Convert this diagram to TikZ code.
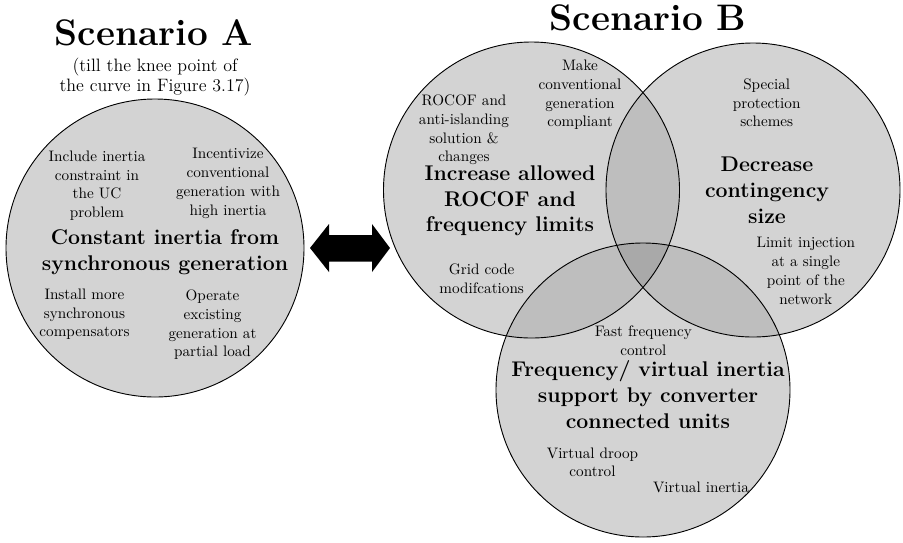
\documentclass[tikz,border=0pt]{standalone}
\usepackage{xcolor}
\definecolor{vennone}{HTML}{D3D3D3}
\definecolor{venntwo}{HTML}{BEBEBE}
\definecolor{vennthree}{HTML}{A9A9A9}
\begin{document}
% multi-line nodes are placed by the baseline of their last line
\begin{tikzpicture}[x=0.658pt,y=-0.658pt,
  ring/.style={draw=black, line width=0.6pt},
  item/.style={font=\fontsize{10}{12.3}\selectfont, align=center, anchor=base, inner sep=0pt},
  topic/.style={font=\fontsize{14}{16.8}\selectfont\bfseries, align=center, anchor=base, inner sep=0pt},
  heading/.style={font=\fontsize{24.3}{29}\selectfont\bfseries, anchor=base, inner sep=0pt},
  remark/.style={font=\fontsize{11.8}{13.2}\selectfont, align=center, anchor=base, inner sep=0pt}]
\useasboundingbox (0,0) rectangle (903,542);
\fill[white] (0,0) rectangle (903,542);

% circle centres
\coordinate (cA) at (155,248);
\coordinate (cB1) at (531.5,190);
\coordinate (cB2) at (753,190);
\coordinate (cB3) at (643,390);

% fills: single, pairwise and triple overlaps
\fill[vennone] (cA) circle[radius=149];
\fill[vennone] (cB1) circle[radius=148];
\fill[vennone] (cB2) circle[radius=147];
\fill[vennone] (cB3) circle[radius=147];
\begin{scope}
  \clip (cB1) circle[radius=148];
  \fill[venntwo] (cB2) circle[radius=147];
  \fill[venntwo] (cB3) circle[radius=147];
\end{scope}
\begin{scope}
  \clip (cB2) circle[radius=147];
  \fill[venntwo] (cB3) circle[radius=147];
\end{scope}
\begin{scope}
  \clip (cB1) circle[radius=148];
  \clip (cB2) circle[radius=147];
  \fill[vennthree] (cB3) circle[radius=147];
\end{scope}

% outlines
\draw[ring] (cA) circle[radius=149];
\draw[ring] (cB1) circle[radius=148];
\draw[ring] (cB2) circle[radius=147];
\draw[ring] (cB3) circle[radius=147];

% double arrow between the scenarios
\coordinate (tipL) at (310,248);
\coordinate (tipR) at (390,248);
\fill[black] (tipL) -- (329,224) -- (329,235) -- (372,235) -- (372,224) -- (tipR)
  -- (372,272) -- (372,261.5) -- (329,261.5) -- (329,272) -- cycle;

% Scenario A
\node[heading] (titleA) at (154,45.7) {Scenario A};
\node[remark] (noteA) at (155,91.7) {(till the knee point of\\the curve in Figure 3.17)};
\node[item] (a1) at (97,217.4) {Include inertia\\constraint in\\the UC\\problem};
\node[item] (a2) at (228,215) {Incentivize\\conventional\\generation with\\high inertia};
\node[topic] (aT) at (165,270) {Constant inertia from\\synchronous generation};
\node[item] (a3) at (84.5,336.7) {Install more\\synchronous\\compensators};
\node[item] (a4) at (212.5,356.7) {Operate\\excisting\\generation at\\partial load};

% Scenario B
\node[heading] (titleB) at (648,30) {Scenario B};
\node[item] (b1) at (580,126.7) {Make\\conventional\\generation\\compliant};
\node[item] (b2) at (464,161.7) {ROCOF and\\anti-islanding\\solution \&\\changes};
\node[topic] (bT1) at (510,231.7) {Increase allowed\\ROCOF and\\frequency limits};
\node[item] (b3) at (481.7,293) {Grid code\\modifcations};

\node[item] (c1) at (766.7,126.7) {Special\\protection\\schemes};
\node[topic] (bT2) at (767,223) {Decrease\\contingency\\size};
\node[item] (c2) at (805.8,304) {Limit injection\\at a single\\point of the\\network};

\node[item] (d1) at (643.3,355) {Fast frequency\\control};
\node[topic] (bT3) at (648,428) {Frequency/ virtual inertia\\support by converter\\connected units};
\node[item] (d2) at (592.5,476.7) {Virtual droop\\control};
\node[item] (d3) at (701,492.7) {Virtual inertia};
\end{tikzpicture}
\end{document}
